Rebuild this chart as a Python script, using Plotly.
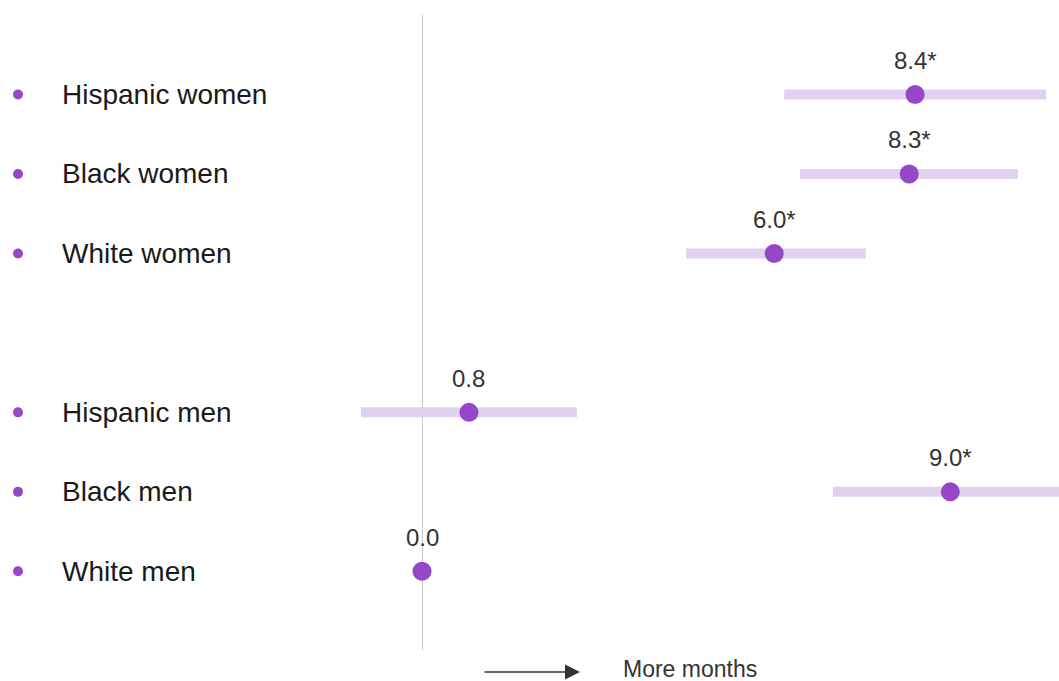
import plotly.graph_objects as go

# ---- data ----
categories = ["Hispanic women", "Black women", "White women", " ",
              "Hispanic men", "Black men", "White men"]
groups = ["Hispanic women", "Black women", "White women",
          "Hispanic men", "Black men", "White men"]
estimates = [8.4, 8.3, 6.0, 0.8, 9.0, 0.0]
ci_low = [6.17, 6.44, 4.5, -1.04, 7.0, None]
ci_high = [10.63, 10.15, 7.56, 2.64, 11.2, None]
significant = [True, True, True, False, True, False]

# ---- style ----
W, H = 1059, 681
ZERO_PX = 422
PX_PER_UNIT = 58.7
X_MIN = -ZERO_PX / PX_PER_UNIT
X_MAX = (W - ZERO_PX) / PX_PER_UNIT
DOT = "#9646c8"
BAR = "#e2d0ef"
FONT = "Liberation Sans, Arial, sans-serif"

fig = go.Figure()

# confidence interval bars
for g, lo, hi in zip(groups, ci_low, ci_high):
    if lo is None:
        continue
    fig.add_trace(go.Scatter(x=[lo, hi], y=[g, g], mode="lines",
                             line=dict(color=BAR, width=10),
                             hoverinfo="skip", showlegend=False))

# point estimates
fig.add_trace(go.Scatter(x=estimates, y=groups, mode="markers",
                         marker=dict(color=DOT, size=19),
                         showlegend=False))

# bullets at the left of labels
bullet_x = X_MIN + 18 / PX_PER_UNIT
fig.add_trace(go.Scatter(x=[bullet_x] * len(groups), y=groups, mode="markers",
                         marker=dict(color=DOT, size=10),
                         hoverinfo="skip", showlegend=False, cliponaxis=False))

annotations = []
for g, v, s in zip(groups, estimates, significant):
    annotations.append(dict(x=v, y=g, xref="x", yref="y",
                            text=f"{v:.1f}" + ("*" if s else ""),
                            showarrow=False, yshift=34,
                            font=dict(family=FONT, size=24, color="#333333")))
    annotations.append(dict(x=60 / W, y=g, xref="paper", yref="y",
                            text=g, xanchor="left", showarrow=False,
                            font=dict(family=FONT, size=28, color="#1a1a1a")))

# "More months" arrow
annotations.append(dict(xref="paper", yref="paper", x=580 / W, y=-(672 - 650) / (650 - 15),
                        ax=-97, ay=0, text="", showarrow=True,
                        arrowhead=2, arrowsize=2.0, arrowwidth=1.5,
                        arrowcolor="#333333"))
annotations.append(dict(xref="paper", yref="paper", x=621 / W, y=-(669 - 650) / (650 - 15),
                        xanchor="left", yanchor="middle", text="More months",
                        showarrow=False,
                        font=dict(family=FONT, size=23, color="#333333")))

fig.update_layout(
    width=W, height=H,
    margin=dict(l=0, r=0, t=15, b=31),
    paper_bgcolor="white", plot_bgcolor="white",
    xaxis=dict(range=[X_MIN, X_MAX], showgrid=False, zeroline=True,
               zerolinecolor="#c8c8c8", zerolinewidth=1,
               showticklabels=False, ticks="", showline=False, fixedrange=True),
    yaxis=dict(type="category", categoryorder="array", categoryarray=categories,
               range=[6.99, -1.0], showgrid=False, zeroline=False,
               showticklabels=False, ticks="", showline=False, fixedrange=True),
    annotations=annotations,
    showlegend=False,
)

fig.write_html("out.html", config={"displayModeBar": False},
               post_script="document.body.style.margin='0';document.body.style.overflow='hidden';")
